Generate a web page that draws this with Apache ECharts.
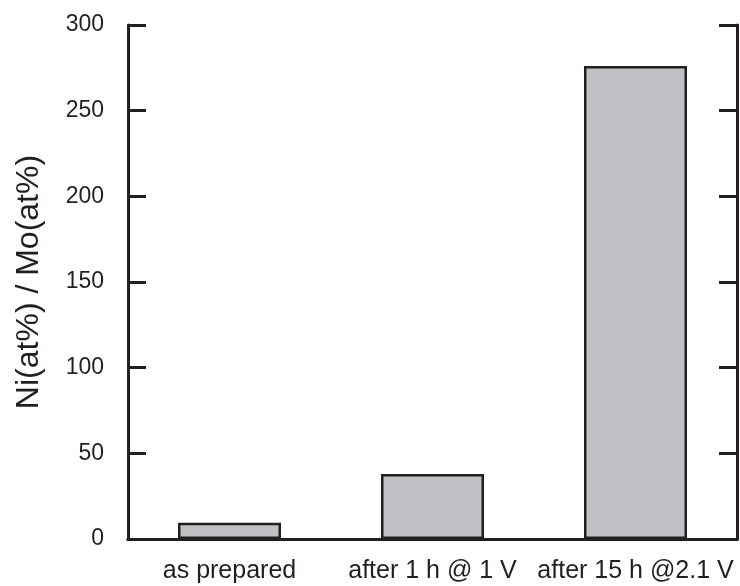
<!DOCTYPE html>
<html>
<head>
<meta charset="utf-8">
<style>
  html, body { margin: 0; padding: 0; background: #fff; }
  #chart { width: 740px; height: 586px; }
</style>
<script src="https://cdn.jsdelivr.net/npm/echarts@6/dist/echarts.min.js"></script>
</head>
<body>
<div id="chart"></div>
<script>
// Ni/Mo atomic ratio for each sample condition
const categories = ['as prepared', 'after 1 h @ 1 V', 'after 15 h @2.1 V'];
const ratioValues = [9.5, 38, 276];
const yTicks = [0, 50, 100, 150, 200, 250, 300];

const ink = '#231f20';
const font = 'Liberation Sans, Arial, sans-serif';

const chart = echarts.init(document.getElementById('chart'), null, { renderer: 'canvas' });

chart.setOption({
  animation: false,
  backgroundColor: '#fff',
  grid: { left: 128, right: 3, top: 25, bottom: 47, containLabel: false },
  xAxis: [
    {
      type: 'category',
      data: categories,
      axisLine: { show: true, lineStyle: { color: ink, width: 3 } },
      axisTick: { show: false },
      axisLabel: { color: ink, fontSize: 25, fontFamily: font, margin: 20, interval: 0 }
    },
    {
      type: 'category',
      position: 'top',
      data: categories,
      axisLine: { show: true, lineStyle: { color: ink, width: 3 } },
      axisTick: { show: false },
      axisLabel: { show: false }
    }
  ],
  yAxis: [
    {
      type: 'value',
      min: yTicks[0],
      max: yTicks[yTicks.length - 1],
      interval: 50,
      name: 'Ni(at%) / Mo(at%)',
      nameLocation: 'middle',
      nameGap: 83,
      nameTextStyle: { color: ink, fontSize: 32, fontFamily: font },
      axisLine: { show: true, lineStyle: { color: ink, width: 3 } },
      axisTick: { show: true, inside: true, length: 18, lineStyle: { color: ink, width: 3 } },
      axisLabel: { color: ink, fontSize: 23, fontFamily: font, margin: 24 },
      splitLine: { show: false }
    },
    {
      type: 'value',
      position: 'right',
      min: yTicks[0],
      max: yTicks[yTicks.length - 1],
      interval: 50,
      axisLine: { show: true, lineStyle: { color: ink, width: 3 } },
      axisTick: { show: true, inside: true, length: 18, lineStyle: { color: ink, width: 3 } },
      axisLabel: { show: false },
      splitLine: { show: false }
    }
  ],
  series: [
    {
      type: 'bar',
      data: ratioValues,
      barWidth: 103,
      itemStyle: { color: '#c0c1c4', borderColor: ink, borderWidth: 2.5 },
      z: 1
    }
  ]
});
</script>
</body>
</html>
